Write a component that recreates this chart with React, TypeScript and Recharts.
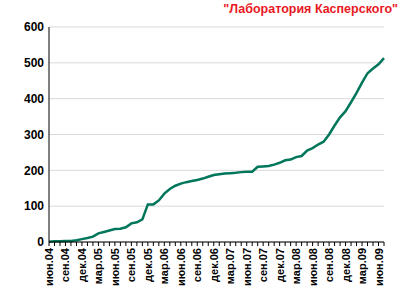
import React from 'react';
import { LineChart, Line, XAxis, YAxis, CartesianGrid } from 'recharts';

const months: string[] = [
  'июн.04','июл.04','авг.04','сен.04','окт.04','ноя.04','дек.04',
  'янв.05','фев.05','мар.05','апр.05','май.05','июн.05','июл.05','авг.05','сен.05','окт.05','ноя.05','дек.05',
  'янв.06','фев.06','мар.06','апр.06','май.06','июн.06','июл.06','авг.06','сен.06','окт.06','ноя.06','дек.06',
  'янв.07','фев.07','мар.07','апр.07','май.07','июн.07','июл.07','авг.07','сен.07','окт.07','ноя.07','дек.07',
  'янв.08','фев.08','мар.08','апр.08','май.08','июн.08','июл.08','авг.08','сен.08','окт.08','ноя.08','дек.08',
  'янв.09','фев.09','мар.09','апр.09','май.09','июн.09','июл.09',
];

const values: number[] = [
  1, 2, 2, 3, 3, 5, 8,
  11, 15, 24, 28, 32, 36, 37, 41, 52, 55, 63, 105,
  105, 116, 135, 148, 157, 163, 167, 170, 173, 177, 182, 187,
  189, 191, 192, 193, 195, 196, 196, 210, 211, 212, 216, 221,
  228, 230, 237, 240, 255, 262, 272, 280, 300, 325, 348, 365,
  390, 416, 445, 471, 484, 496, 513,
];

const yTicks: number[] = [0, 100, 200, 300, 400, 500, 600];
const title = '"Лаборатория Касперского"';

const data = months.map((m, i) => ({ month: m, value: values[i] }));

const XTick = (props: any) => {
  const { x, y, payload, index } = props;
  if (index % 3 !== 0) return <g />;
  return (
    <text
      x={x}
      y={y}
      transform={`rotate(-90, ${x}, ${y})`}
      textAnchor="end"
      dominantBaseline="central"
      fontFamily="Liberation Sans, Arial, sans-serif"
      fontWeight="bold"
      fontSize={11}
      fill="#000"
    >
      {payload.value}
    </text>
  );
};

export default function App() {
  return (
    <div style={{ position: 'absolute', left: 0, top: 0, width: 400, height: 300, background: '#fff' }}>
      <svg width={400} height={300} style={{ position: 'absolute', left: 0, top: 0, pointerEvents: 'none' }}>
        <text
          x={398}
          y={13}
          textAnchor="end"
          fontFamily="Liberation Sans, Arial, sans-serif"
          fontWeight="bold"
          fontSize={12.5}
          fill="#e8191f"
        >
          {title}
        </text>
      </svg>
      <LineChart
        width={400}
        height={300}
        data={data}
        margin={{ top: 27, right: 16, bottom: 0, left: 0 }}
      >
        <CartesianGrid vertical={false} stroke="#d9d9d9" strokeWidth={1} />
        <XAxis
          dataKey="month"
          interval={0}
          height={58}
          tick={<XTick />}
          tickLine={{ stroke: '#000' }}
          tickSize={4}
          tickMargin={2}
          axisLine={{ stroke: '#000' }}
        />
        <YAxis
          domain={[0, 600]}
          ticks={yTicks}
          width={49}
          tickLine={false}
          tickSize={0}
          tickMargin={5}
          axisLine={{ stroke: '#000' }}
          tick={{ fill: '#000', fontSize: 12, fontWeight: 'bold', fontFamily: 'Liberation Sans, Arial, sans-serif' }}
        />
        <Line
          type="linear"
          dataKey="value"
          stroke="#00775b"
          strokeWidth={2.5}
          dot={false}
          isAnimationActive={false}
        />
      </LineChart>
    </div>
  );
}
